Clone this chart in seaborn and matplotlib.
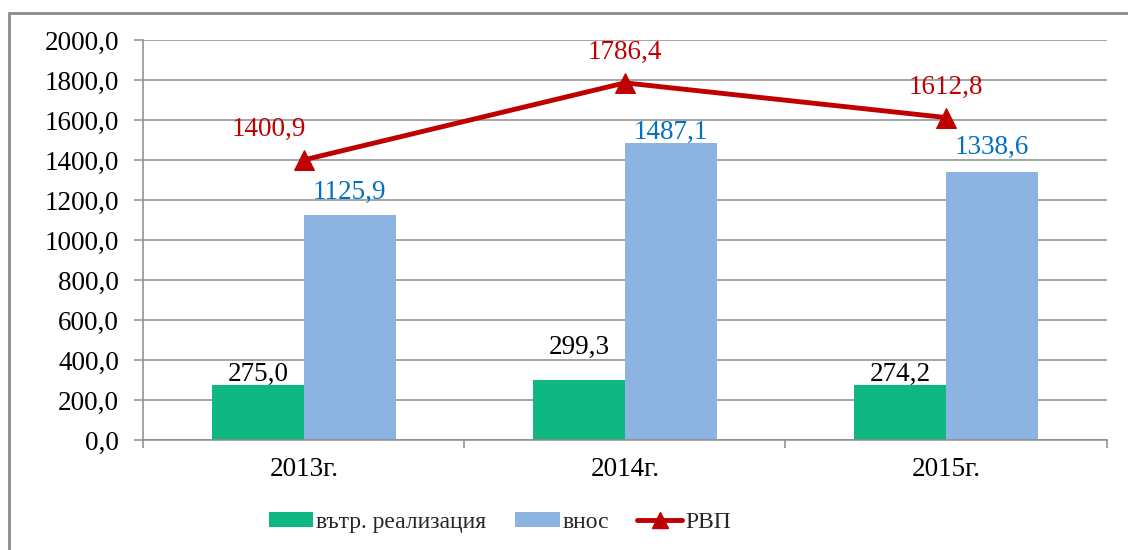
import matplotlib
matplotlib.use("Agg")
import matplotlib.pyplot as plt
import seaborn as sns
import numpy as np
import pandas as pd
from matplotlib.patches import Patch, Rectangle
from matplotlib.lines import Line2D
from matplotlib.ticker import FuncFormatter, FixedLocator

years = ["2013г.", "2014г.", "2015г."]
domestic = [275.0, 299.3, 274.2]      # вътр. реализация
imports = [1125.9, 1487.1, 1338.6]    # внос
rvp = [1400.9, 1786.4, 1612.8]        # РВП
series_names = ["вътр. реализация", "внос", "РВП"]

green = "#0FB883"
blue = "#8DB3E2"
red = "#C00000"
label_blue = "#0070C0"
fs = 19.5

sns.set_theme(style="white")
plt.rcParams["font.family"] = ["Liberation Serif", "DejaVu Serif"]

df = pd.DataFrame({
    "year": years * 2,
    "value": domestic + imports,
    "series": [series_names[0]] * 3 + [series_names[1]] * 3,
})

fig = plt.figure(figsize=(11.28, 5.5), dpi=100)
ax = fig.add_axes([0.127, 0.2, 0.854, 0.727])

sns.barplot(data=df, x="year", y="value", hue="series", order=years,
            hue_order=series_names[:2], palette=[green, blue],
            width=0.572, gap=0, saturation=1, ax=ax, legend=False,
            linewidth=0, zorder=2)

x = np.arange(len(years))
sns.lineplot(x=x, y=rvp, color=red, linewidth=3.5, marker="^",
             markersize=15, markeredgecolor=red, ax=ax, zorder=4)

ax.set_xlim(-0.5, 2.5)
ax.set_ylim(0, 2000)
ax.set_yticks(np.arange(0, 2001, 200))
ax.yaxis.set_major_formatter(FuncFormatter(lambda v, p: f"{v:.1f}".replace(".", ",")))
ax.grid(axis="y", color="#8C8C8C", linewidth=1.1, zorder=0)
ax.set_axisbelow(True)
ax.set_xlabel("")
ax.set_ylabel("")

for s in ["top", "right"]:
    ax.spines[s].set_visible(False)
for s in ["left", "bottom"]:
    ax.spines[s].set_color("#8C8C8C")
    ax.spines[s].set_linewidth(1.1)

ax.tick_params(axis="y", which="major", length=6.5, width=1.1, color="#8C8C8C",
               pad=11, labelsize=fs, left=True)
ax.tick_params(axis="x", which="major", length=0, pad=12, labelsize=fs)
ax.xaxis.set_minor_locator(FixedLocator([-0.5, 0.5, 1.5, 2.5]))
ax.tick_params(axis="x", which="minor", length=6, width=1.1, color="#8C8C8C", bottom=True)
for t in ax.get_xticklabels() + ax.get_yticklabels():
    t.set_color("black")

fmt = lambda v: f"{v:.1f}".replace(".", ",")
half = 0.572 / 4
green_off = [-2, 20, -2]
blue_off = [10, -2, 12]
red_dx = [-0.11, 0, 0]
for i in range(len(years)):
    ax.annotate(fmt(domestic[i]), (x[i] - half, domestic[i]), xytext=(0, green_off[i] * 0.72),
                textcoords="offset points", ha="center", va="bottom",
                fontsize=fs, color="black", zorder=5)
    ax.annotate(fmt(imports[i]), (x[i] + half, imports[i]), xytext=(0, blue_off[i] * 0.72),
                textcoords="offset points", ha="center", va="bottom",
                fontsize=fs, color=label_blue, zorder=5)
    ax.annotate(fmt(rvp[i]), (x[i] + red_dx[i], rvp[i]), xytext=(0, 13),
                textcoords="offset points", ha="center", va="bottom",
                fontsize=fs, color=red, zorder=5)

# outer chart border (only left and top visible in the crop)
fig.patches.append(Rectangle((9 / 1128, -0.1), 1.2, 0.1 + (550 - 13) / 550,
                             transform=fig.transFigure, fill=False,
                             edgecolor="#8C8C8C", linewidth=2))

handles = [Patch(facecolor=green, edgecolor="none"),
           Patch(facecolor=blue, edgecolor="none"),
           Line2D([0], [0], color=red, linewidth=3.5, marker="^", markersize=12)]
fig.legend(handles, series_names, loc="center", bbox_to_anchor=(0.443, 0.05),
           ncol=3, frameon=False, fontsize=17, handlelength=1.9,
           handleheight=0.6, handletextpad=0.12, columnspacing=1.2)

fig.savefig("out.png", dpi=100)
